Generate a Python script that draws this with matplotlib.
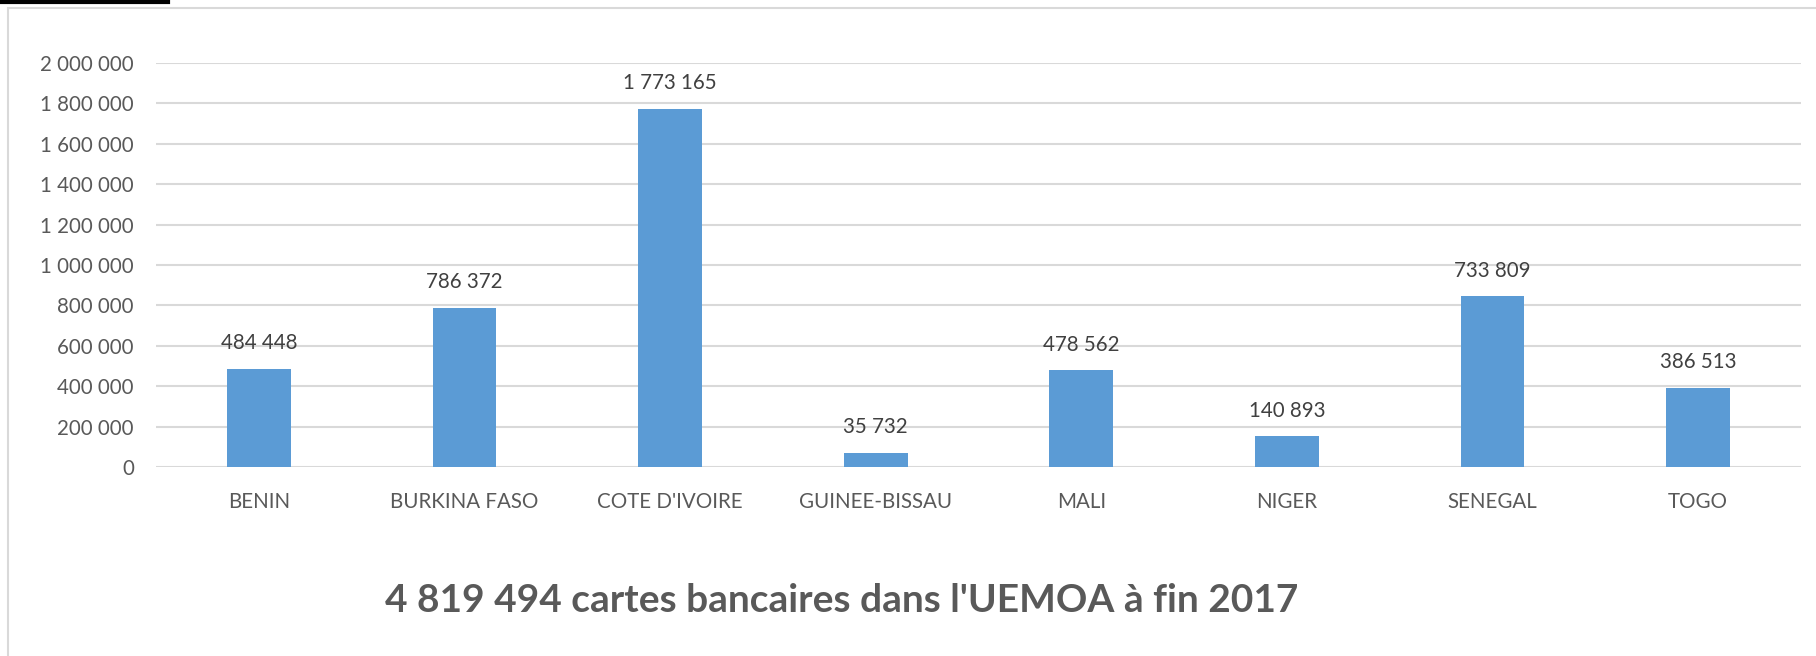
import matplotlib.pyplot as plt
from matplotlib.lines import Line2D
from matplotlib.patches import Rectangle

pays = ['BENIN', 'BURKINA FASO', "COTE D'IVOIRE", 'GUINEE-BISSAU',
        'MALI', 'NIGER', 'SENEGAL', 'TOGO']
# hauteurs des barres telles que dessinees
hauteurs = [484448, 786372, 1773165, 71000, 478562, 152000, 845000, 391000]
# etiquettes affichees au-dessus des barres
etiquettes = ['484 448', '786 372', '1 773 165', '35 732',
              '478 562', '140 893', '733 809', '386 513']
yticks = [0, 200000, 400000, 600000, 800000, 1000000, 1200000,
          1400000, 1600000, 1800000, 2000000]
titre = "4 819 494 cartes bancaires dans l'UEMOA à fin 2017"

plt.rcParams['font.family'] = ['Lato', 'DejaVu Sans']

W, H = 1816, 656
f = plt.figure(figsize=(W / 100, H / 100), dpi=100)

# cadre du graphique
f.add_artist(Rectangle((8 / W, -0.1), 1.2, 1 - 8 / H + 0.1, transform=f.transFigure,
                       fill=False, edgecolor='#D9D9D9', linewidth=1.5))
f.add_artist(Line2D([0, 168 / W], [1 - 2 / H, 1 - 2 / H], transform=f.transFigure,
                    color='black', linewidth=3))

ax = f.add_axes([156 / W, 1 - 467 / H, (1801 - 156) / W, (467 - 63) / H])
x = range(len(pays))
ax.bar(x, hauteurs, width=0.31, color='#5B9BD5', zorder=3)
for i in x:
    ax.annotate(etiquettes[i], (i, hauteurs[i]), xytext=(0, 18.5),
                textcoords='offset points', ha='center', va='center',
                fontsize=14.8, color='#404040')

ax.set_xlim(-0.5, len(pays) - 0.5)
ax.set_ylim(0, 2000000)
ax.set_yticks(yticks)
ax.set_yticklabels([f'{v:,}'.replace(',', ' ') for v in yticks])
ax.set_xticks(list(x))
ax.set_xticklabels(pays)
ax.tick_params(axis='y', length=0, pad=16, labelsize=14.8, labelcolor='#595959')
ax.tick_params(axis='x', length=0, pad=18, labelsize=14.8, labelcolor='#595959')
ax.grid(axis='y', color='#D9D9D9', linewidth=1.5, zorder=0)
for s in ax.spines.values():
    s.set_visible(False)

f.text(842 / W, 1 - 601 / H, titre, ha='center', va='center',
       fontsize=28, fontweight='bold', color='#595959')

f.savefig('out.png', dpi=100)
